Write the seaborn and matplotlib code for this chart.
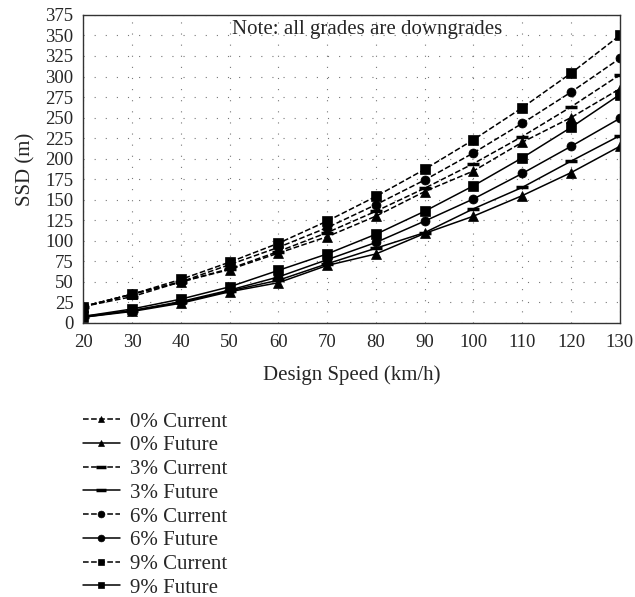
import matplotlib
matplotlib.use("Agg")
import matplotlib.pyplot as plt
import seaborn as sns
import pandas as pd

speed = [20, 30, 40, 50, 60, 70, 80, 90, 100, 110, 120, 130]

g0_current = [20, 35, 50, 65, 85, 105, 130, 160, 185, 220, 250, 285]
g0_future = [7, 14, 24, 38, 49, 70, 84, 109, 130, 155, 183, 215]
g3_current = [20, 32, 50, 66, 87, 110, 136, 164, 194, 227, 263, 302]
g3_future = [7, 15, 25, 39, 52, 72, 91, 110, 139, 165, 197, 228]
g6_current = [20, 35, 50, 71, 92, 116, 144, 174, 207, 243, 281, 322]
g6_future = [8, 15, 26, 40, 56, 77, 98, 124, 151, 182, 215, 249]
g9_current = [20, 35, 53, 74, 97, 124, 154, 187, 223, 262, 304, 350]
g9_future = [8, 17, 29, 44, 64, 84, 108, 136, 167, 201, 238, 278]

series = [
    ("0% Current", g0_current, "^", "--"),
    ("0% Future", g0_future, "^", "-"),
    ("3% Current", g3_current, "_", "--"),
    ("3% Future", g3_future, "_", "-"),
    ("6% Current", g6_current, "o", "--"),
    ("6% Future", g6_future, "o", "-"),
    ("9% Current", g9_current, "s", "--"),
    ("9% Future", g9_future, "s", "-"),
]

sns.set_style("ticks")
plt.rcParams["font.family"] = ["Liberation Serif", "DejaVu Serif"]

fig = plt.figure(figsize=(6.35, 5.97), dpi=100)
ax = fig.add_axes([0.131, 0.459, 0.845, 0.516])

for name, vals, mk, ls in series:
    df = pd.DataFrame({"speed": speed, "ssd": vals})
    kw = dict(dashes=(5.5, 3)) if ls == "--" else {}
    if mk == "_":
        mkw = dict(markersize=9, markeredgewidth=2.5)
    else:
        mkw = dict(markersize=6.5, markeredgewidth=0.5)
    sns.lineplot(data=df, x="speed", y="ssd", ax=ax, color="black", lw=1.1,
                 linestyle=ls, marker=mk, markeredgecolor="black",
                 markerfacecolor="black", label=name, **mkw, **kw)

ax.set_xlim(20, 130)
ax.set_ylim(0, 375)
ax.set_xticks(range(20, 131, 10))
ax.set_yticks(range(0, 376, 25))
ax.tick_params(labelsize=13.5, length=0)
ax.tick_params(axis="x", pad=8)
ax.tick_params(axis="y", pad=7)
ax.grid(True, color="#777777", linestyle=(0, (1, 9)), lw=0.8)
for s in ax.spines.values():
    s.set_color("#333333")
    s.set_linewidth(1.0)

ax.set_xlabel("Design Speed (km/h)", fontsize=15, labelpad=10)
ax.set_ylabel("SSD (m)", fontsize=15, labelpad=7)
ax.text(0.529, 0.985, "Note: all grades are downgrades", transform=ax.transAxes,
        ha="center", va="top", fontsize=15)

fig.legend(*ax.get_legend_handles_labels(), loc="upper left",
           bbox_to_anchor=(0.131, 0.31), borderaxespad=0, borderpad=0,
           frameon=False, fontsize=15, handlelength=1.75, labelspacing=0.2,
           handletextpad=0.5, markerscale=0.75)
ax.get_legend().remove()

fig.savefig("out.png", dpi=100)
